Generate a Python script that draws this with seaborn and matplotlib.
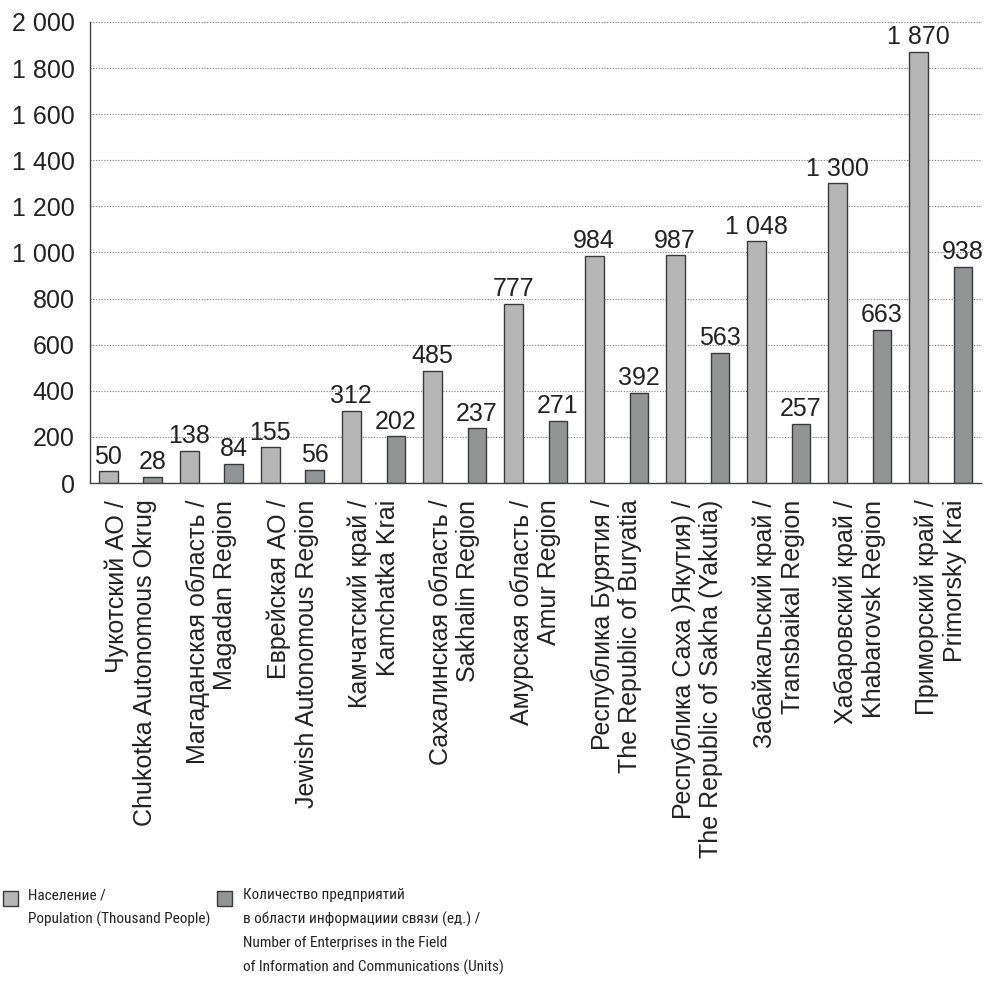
import pandas as pd
import numpy as np
import matplotlib
matplotlib.use("Agg")
import matplotlib.pyplot as plt
from matplotlib import font_manager as fm
from matplotlib.patches import Rectangle
import seaborn as sns

# data
regions_ru = ["Чукотский АО /", "Магаданская область /", "Еврейская АО /",
              "Камчатский край /", "Сахалинская область /", "Амурская область /",
              "Республика Бурятия /", "Республика Саха )Якутия) /",
              "Забайкальский край /", "Хабаровский край /", "Приморский край /"]
regions_en = ["Chukotka Autonomous Okrug", "Magadan Region", "Jewish Autonomous Region",
              "Kamchatka Krai", "Sakhalin Region", "Amur Region",
              "The Republic of Buryatia", "The Republic of Sakha (Yakutia)",
              "Transbaikal Region", "Khabarovsk Region", "Primorsky Krai"]
population = [50, 138, 155, 312, 485, 777, 984, 987, 1048, 1300, 1870]
enterprises = [28, 84, 56, 202, 237, 271, 392, 563, 257, 663, 938]

series_names = ["Население /\nPopulation (Thousand People)",
                "Количество предприятий\nв области информациии связи (ед.) /\n"
                "Number of Enterprises in the Field\nof Information and Communications (Units)"]
colors = ["#b5b6b5", "#929595"]

labels = [ru + "\n" + en for ru, en in zip(regions_ru, regions_en)]
df = pd.DataFrame({
    "region": labels * 2,
    "value": population + enterprises,
    "series": [series_names[0]] * len(labels) + [series_names[1]] * len(labels),
})

sns.set_style("white")
plt.rcParams["font.family"] = ["Liberation Sans", "DejaVu Sans"]

fig = plt.figure(figsize=(9.87, 9.99), dpi=100)
renderer = fig.canvas.get_renderer()

# the legend in the reference uses a condensed face: take the narrowest one installed
sample = "Population (Thousand People)"
legend_prop = fm.FontProperties(family=["Liberation Sans"], size=17)
best_w = renderer.get_text_width_height_descent(sample, legend_prop, ismath=False)[0]
for f in fm.fontManager.ttflist:
    fname = f.fname.lower()
    if not any(k in fname for k in ("narrow", "condensed")):
        continue
    if any(k in fname for k in ("bold", "italic", "light", "thin", "medium",
                                "black", "semi", "oblique")):
        continue
    if not any(k in f.name.lower() for k in ("liberation", "roboto", "noto sans",
                                              "open sans", "dejavu")):
        continue
    if "cjk" in f.name.lower() or "mono" in f.name.lower():
        continue
    p = fm.FontProperties(fname=f.fname, size=17)
    w = renderer.get_text_width_height_descent(sample, p, ismath=False)[0]
    if w < best_w:
        best_w, legend_prop = w, p
legend_size = min(17.0, 17.0 * 182 / best_w)
legend_prop.set_size(legend_size)
line_h = renderer.get_text_width_height_descent("lp", legend_prop, ismath=False)[1]

ax = fig.add_axes([0.0912, 0.5165, 0.9028, 0.4615])

sns.barplot(data=df, x="region", y="value", hue="series", order=labels,
            hue_order=series_names, palette=dict(zip(series_names, colors)),
            width=1.104, gap=0.58, edgecolor="#3a3a3a", linewidth=1.0,
            saturation=1, legend=False, ax=ax)

def fmt(v):
    return f"{int(round(v)):,}".replace(",", " ")

for cont in ax.containers:
    ax.bar_label(cont, labels=[fmt(b.get_height()) for b in cont],
                 padding=2, fontsize=18, color="#222222")

ax.set_ylim(0, 2000)
ax.set_xlim(-0.5, len(labels) - 0.5)
ax.set_yticks(np.arange(0, 2001, 200))
ax.set_yticklabels([fmt(v) for v in np.arange(0, 2001, 200)])
ax.yaxis.grid(True, linestyle=(0, (1, 1.5)), color="#777777", linewidth=0.8)
ax.set_axisbelow(True)

ax.set_xticks(np.arange(len(labels)))
ax.set_xticklabels(labels, rotation=90, ha="center", va="top",
                   linespacing=1.2)
ax.set_xticks(np.arange(len(labels) + 1) - 0.5, minor=True)
ax.tick_params(axis="x", which="major", length=0, pad=12, labelsize=18,
               labelcolor="#222222")
ax.tick_params(axis="x", which="minor", length=4, width=1, color="#444444",
               direction="out")
ax.tick_params(axis="y", length=0, pad=11, labelsize=18, labelcolor="#222222")
for t in ax.get_xticklabels():
    t.set_multialignment("right")

ax.set_xlabel("")
ax.set_ylabel("")
for side in ["top", "right"]:
    ax.spines[side].set_visible(False)
for side in ["left", "bottom"]:
    ax.spines[side].set_color("#444444")
    ax.spines[side].set_linewidth(1.0)

# legend drawn by hand so the swatch sits beside the first line
W, H = 987, 999
legend_x = [(3, 28), (217, 243)]
for (sx, tx), name, col in zip(legend_x, series_names, colors):
    fig.patches.append(Rectangle((sx / W, 1 - 906 / H), 15 / W, 15 / H,
                                 transform=fig.transFigure, facecolor=col,
                                 edgecolor="#3a3a3a", linewidth=1.0))
    fig.text(tx / W, 1 - 888 / H, name, ha="left", va="top",
             fontproperties=legend_prop, color="#222222",
             linespacing=25.5 / line_h)

fig.savefig("out.png", dpi=100)
